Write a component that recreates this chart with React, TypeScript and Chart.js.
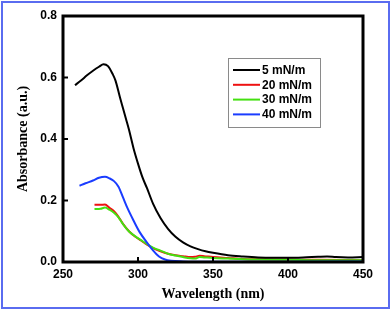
import React, { useEffect, useRef } from "react";
import { Chart, registerables } from "chart.js";

Chart.register(...registerables);

const xTicksStep = 50;
const yTicksStep = 0.2;

const seriesLabels = ["5 mN/m", "20 mN/m", "30 mN/m", "40 mN/m"];
const seriesColors = ["#000000", "#ee1111", "#44e011", "#1a3cff"];
const seriesOrder = [0, 3, 2, 1];

const wl5 = [258, 262, 266, 270, 274, 277, 280, 283, 285, 288, 290, 292, 294, 297, 300, 303, 306, 310, 315, 320, 325, 330, 335, 340, 345, 350, 360, 370, 380, 390, 400, 410, 420, 426, 432, 440, 450];
const abs5 = [0.575, 0.59, 0.607, 0.622, 0.635, 0.643, 0.637, 0.612, 0.59, 0.535, 0.5, 0.465, 0.43, 0.37, 0.32, 0.275, 0.24, 0.19, 0.143, 0.108, 0.082, 0.064, 0.051, 0.042, 0.035, 0.03, 0.022, 0.018, 0.015, 0.014, 0.014, 0.015, 0.017, 0.018, 0.016, 0.015, 0.016];

const wl20 = [271, 275, 278, 281, 284, 287, 290, 294, 298, 302, 306, 310, 315, 320, 325, 330, 335, 338, 341, 344, 350, 360, 370, 380, 400, 420, 450];
const abs20 = [0.186, 0.186, 0.187, 0.176, 0.165, 0.147, 0.124, 0.1, 0.083, 0.07, 0.056, 0.045, 0.035, 0.027, 0.022, 0.019, 0.016, 0.017, 0.02, 0.019, 0.016, 0.013, 0.01, 0.009, 0.008, 0.007, 0.006];

const wl30 = [271, 275, 278, 281, 284, 287, 290, 294, 298, 302, 306, 310, 315, 320, 325, 330, 335, 338, 341, 344, 350, 360, 370, 380, 400, 420, 450];
const abs30 = [0.172, 0.173, 0.177, 0.17, 0.16, 0.145, 0.123, 0.099, 0.084, 0.071, 0.058, 0.047, 0.037, 0.027, 0.021, 0.016, 0.012, 0.011, 0.016, 0.015, 0.013, 0.011, 0.009, 0.008, 0.007, 0.006, 0.006];

const wl40 = [261, 265, 270, 274, 278, 281, 284, 287, 290, 293, 297, 301, 306, 310, 314, 318, 322, 330, 350, 400, 450];
const abs40 = [0.248, 0.256, 0.265, 0.274, 0.277, 0.272, 0.263, 0.245, 0.21, 0.175, 0.135, 0.098, 0.063, 0.038, 0.018, 0.008, 0.004, 0.002, 0.001, 0.001, 0.002];

const seriesX = [wl5, wl20, wl30, wl40];
const seriesY = [abs5, abs20, abs30, abs40];

const tickFont = { family: "'Liberation Sans', Arial, sans-serif", size: 12, weight: "bold" as const };
const titleFont = { family: "'Liberation Serif', 'Times New Roman', serif", size: 14, weight: "bold" as const };

const framePlugin = {
  id: "frameTicksLegend",
  afterDraw(chart: any) {
    const { ctx, chartArea } = chart;
    const { left, right, top, bottom } = chartArea;
    const xs = chart.scales.x;
    const ys = chart.scales.y;
    ctx.save();
    ctx.strokeStyle = "#000";
    ctx.lineWidth = 2;
    xs.ticks.forEach((t: any) => {
      const px = xs.getPixelForValue(t.value);
      if (px <= left + 2 || px >= right - 2) return;
      ctx.beginPath();
      ctx.moveTo(px, bottom);
      ctx.lineTo(px, bottom - 5);
      ctx.stroke();
    });
    ys.ticks.forEach((t: any) => {
      const py = ys.getPixelForValue(t.value);
      if (py <= top + 2 || py >= bottom - 2) return;
      ctx.beginPath();
      ctx.moveTo(left, py);
      ctx.lineTo(left + 5, py);
      ctx.stroke();
    });
    ctx.lineWidth = 3;
    ctx.strokeRect(left, top, right - left, bottom - top);
    const bx = 228, by = 58, bw = 92, bh = 69;
    ctx.fillStyle = "#fff";
    ctx.fillRect(bx, by, bw, bh);
    ctx.lineWidth = 1;
    ctx.strokeStyle = "#8a8a8a";
    ctx.strokeRect(bx + 0.5, by + 0.5, bw, bh);
    ctx.font = "bold 12px 'Liberation Sans', Arial, sans-serif";
    ctx.textBaseline = "middle";
    ctx.textAlign = "left";
    chart.data.datasets.forEach((ds: any, i: number) => {
      const y = by + 12 + i * 14.8;
      ctx.strokeStyle = ds.borderColor;
      ctx.lineWidth = 2;
      ctx.beginPath();
      ctx.moveTo(233, y);
      ctx.lineTo(260, y);
      ctx.stroke();
      ctx.fillStyle = "#000";
      ctx.fillText(ds.label, 262, y + 0.5);
    });
    ctx.restore();
  },
};

export default function App() {
  const ref = useRef<HTMLCanvasElement | null>(null);
  useEffect(() => {
    if (!ref.current) return;
    const datasets = seriesLabels.map((label, i) => ({
      label,
      data: seriesX[i].map((x, j) => ({ x, y: seriesY[i][j] })),
      borderColor: seriesColors[i],
      backgroundColor: seriesColors[i],
      borderWidth: 2,
      pointRadius: 0,
      order: seriesOrder[i],
      cubicInterpolationMode: "monotone" as const,
      fill: false,
    }));
    const chart = new Chart(ref.current, {
      type: "line",
      data: { datasets },
      options: {
        animation: false,
        responsive: true,
        maintainAspectRatio: false,
        layout: { padding: { left: 0, right: 29, top: 16, bottom: 0 } },
        plugins: { legend: { display: false }, tooltip: { enabled: false } },
        scales: {
          x: {
            type: "linear",
            min: 250,
            max: 450,
            grid: { display: false, drawTicks: false },
            border: { display: false },
            ticks: { stepSize: xTicksStep, font: tickFont, color: "#000", padding: 5, maxRotation: 0 },
            title: { display: true, text: "Wavelength (nm)", font: titleFont, color: "#000", padding: { top: 0, bottom: 9 } },
            afterFit: (s: any) => { s.height = 50; },
          },
          y: {
            type: "linear",
            min: 0,
            max: 0.8,
            grid: { display: false, drawTicks: false },
            border: { display: false },
            ticks: { stepSize: yTicksStep, font: tickFont, color: "#000", padding: 6, callback: (v: any) => Number(v).toFixed(1) },
            title: { display: true, text: "Absorbance (a.u.)", font: titleFont, color: "#000", padding: { top: 15, bottom: 0 } },
            afterFit: (s: any) => { s.width = 63; },
          },
        },
      },
      plugins: [framePlugin],
    });
    return () => chart.destroy();
  }, []);
  return (
    <div style={{ position: "absolute", left: 0, top: 0, width: 392, height: 312, background: "#fff" }}>
      <div style={{ position: "absolute", left: 0, top: 0, width: 392, height: 312 }}>
        <canvas ref={ref} />
      </div>
      <div style={{ position: "absolute", left: 1, top: 1, width: 389, height: 308, boxSizing: "border-box", border: "2px solid #5a6cf0", pointerEvents: "none" }} />
    </div>
  );
}
